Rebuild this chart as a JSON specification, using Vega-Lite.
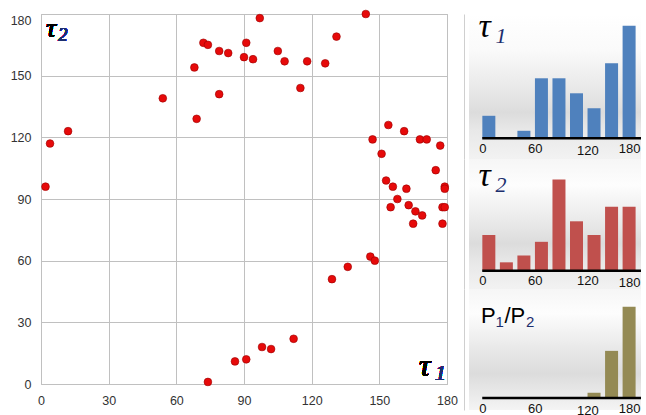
{
  "$schema": "https://vega.github.io/schema/vega-lite/v6.json",
  "padding": {"left": 9, "top": 8, "right": 0, "bottom": 0},
  "background": "white",
  "bounds": "flush",
  "spacing": 17,
  "config": {"view": {"stroke": null}, "font": "Liberation Sans"},
  "hconcat": [
    {
      "width": 406,
      "height": 370,
      "view": {"stroke": "#b8b8b8", "strokeWidth": 1},
      "data": {"values": [
        {"tau1": 2, "tau2": 96}, {"tau1": 4, "tau2": 117}, {"tau1": 12, "tau2": 123},
        {"tau1": 54, "tau2": 139}, {"tau1": 68, "tau2": 154}, {"tau1": 69, "tau2": 129},
        {"tau1": 72, "tau2": 166}, {"tau1": 74, "tau2": 165}, {"tau1": 79, "tau2": 162},
        {"tau1": 79, "tau2": 141}, {"tau1": 83, "tau2": 161}, {"tau1": 91, "tau2": 166},
        {"tau1": 90, "tau2": 159}, {"tau1": 94, "tau2": 158}, {"tau1": 97, "tau2": 178},
        {"tau1": 105, "tau2": 162}, {"tau1": 108, "tau2": 157}, {"tau1": 115, "tau2": 144},
        {"tau1": 118, "tau2": 157}, {"tau1": 126, "tau2": 156}, {"tau1": 131, "tau2": 169},
        {"tau1": 144, "tau2": 180}, {"tau1": 154, "tau2": 126}, {"tau1": 161, "tau2": 123},
        {"tau1": 147, "tau2": 119}, {"tau1": 168, "tau2": 119}, {"tau1": 171, "tau2": 119},
        {"tau1": 177, "tau2": 116}, {"tau1": 151, "tau2": 112}, {"tau1": 175, "tau2": 104},
        {"tau1": 153, "tau2": 99}, {"tau1": 156, "tau2": 96}, {"tau1": 162, "tau2": 95},
        {"tau1": 179, "tau2": 96}, {"tau1": 179, "tau2": 95}, {"tau1": 158, "tau2": 90},
        {"tau1": 155, "tau2": 86}, {"tau1": 163, "tau2": 87}, {"tau1": 166, "tau2": 84},
        {"tau1": 169, "tau2": 82}, {"tau1": 178, "tau2": 86}, {"tau1": 179, "tau2": 86},
        {"tau1": 165, "tau2": 78}, {"tau1": 178, "tau2": 78}, {"tau1": 146, "tau2": 62},
        {"tau1": 148, "tau2": 60}, {"tau1": 136, "tau2": 57}, {"tau1": 129, "tau2": 51},
        {"tau1": 112, "tau2": 22}, {"tau1": 98, "tau2": 18}, {"tau1": 102, "tau2": 17},
        {"tau1": 86, "tau2": 11}, {"tau1": 91, "tau2": 12}, {"tau1": 74, "tau2": 1}
      ]},
      "layer": [
        {
          "mark": {"type": "circle", "size": 60, "fill": "#e60a0a", "stroke": "#9a0000", "strokeWidth": 0.6, "opacity": 1},
          "encoding": {
            "x": {"field": "tau1", "type": "quantitative",
              "scale": {"domain": [0, 180], "nice": false, "zero": false},
              "axis": {"values": [0, 30, 60, 90, 120, 150, 180], "title": null, "grid": true, "gridColor": "#c0c0c0", "ticks": false, "domain": false, "labelPadding": 10, "labelFontSize": 12.5, "labelColor": "#333333", "labelFlush": false, "labelOverlap": false}},
            "y": {"field": "tau2", "type": "quantitative",
              "scale": {"domain": [0, 180], "nice": false, "zero": false},
              "axis": {"values": [0, 30, 60, 90, 120, 150, 180], "title": null, "grid": true, "gridColor": "#c0c0c0", "ticks": false, "domain": false, "labelPadding": 10, "labelFontSize": 12.5, "labelColor": "#333333", "labelFlush": false, "labelOverlap": false,
                "labelBaseline": {"condition": {"test": "datum.value == 180", "value": "top"}, "value": "middle"}}}
          }
        },
        {
          "mark": {"type": "text", "text": "τ", "font": "Liberation Serif", "fontStyle": "italic", "fontSize": 28, "align": "left", "baseline": "alphabetic", "color": "#000000"},
          "encoding": {"x": {"datum": 2.2, "type": "quantitative"}, "y": {"datum": 168.8, "type": "quantitative"}}
        },
        {
          "mark": {"type": "text", "text": "2", "font": "Liberation Serif", "fontStyle": "italic", "fontSize": 19, "align": "left", "baseline": "alphabetic", "color": "#1c2e6e", "dx": 12, "dy": 4},
          "encoding": {"x": {"datum": 2.2, "type": "quantitative"}, "y": {"datum": 168.8, "type": "quantitative"}}
        },
        {
          "mark": {"type": "text", "text": "τ", "font": "Liberation Serif", "fontStyle": "italic", "fontSize": 32, "align": "left", "baseline": "alphabetic", "color": "#000000"},
          "encoding": {"x": {"datum": 167.6, "type": "quantitative"}, "y": {"datum": 3.9, "type": "quantitative"}}
        },
        {
          "mark": {"type": "text", "text": "1", "font": "Liberation Serif", "fontStyle": "italic", "fontSize": 22, "align": "left", "baseline": "alphabetic", "color": "#1c2e6e", "dx": 16, "dy": 4},
          "encoding": {"x": {"datum": 167.6, "type": "quantitative"}, "y": {"datum": 3.9, "type": "quantitative"}}
        }
      ]
    },
    {
      "bounds": "flush",
      "spacing": 0,
      "vconcat": [
        {
          "width": 182,
          "height": 145,
          "view": {"stroke": null},
          "layer": [
            {
              "data": {"values": [{}]},
              "mark": {"type": "rect", "color": {"gradient": "linear", "x1": 0, "y1": 0, "x2": 0, "y2": 1, "stops": [
                {"offset": 0, "color": "#ffffff"}, {"offset": 0.25, "color": "#fafafa"}, {"offset": 0.55, "color": "#e6e6e6"}, {"offset": 0.68, "color": "#dcdcdc"}, {"offset": 0.8, "color": "#e8e8e8"}, {"offset": 1, "color": "#f2f2f2"}]}},
              "encoding": {
                "x": {"datum": -15.1, "type": "quantitative",
                  "scale": {"domain": [-15.1, 181.1], "nice": false, "zero": false},
                  "axis": {"values": [0, 60, 120, 180], "orient": "bottom", "offset": -20.7, "zindex": 1, "domain": false, "ticks": false, "grid": false, "labelFlush": 15, "labelFontSize": 13, "labelColor": "#111111", "title": null, "labelOverlap": false,
                    "labelPadding": {"condition": {"test": "datum.value == 120", "value": 6}, "value": 4}}},
                "x2": {"datum": 181.1},
                "y": {"datum": 16.57, "type": "quantitative",
                  "scale": {"domain": [-2.76, 16.57], "nice": false, "zero": false},
                  "axis": {"orient": "left", "zindex": 1, "domain": true, "domainColor": "#cfcfcf", "labels": false, "ticks": false, "grid": false, "title": null}},
                "y2": {"datum": -2.76}
              }
            },
            {
              "data": {"values": [
                {"bin_start": 0, "count": 3}, {"bin_start": 20, "count": 0}, {"bin_start": 40, "count": 1},
                {"bin_start": 60, "count": 8}, {"bin_start": 80, "count": 8}, {"bin_start": 100, "count": 6},
                {"bin_start": 120, "count": 4}, {"bin_start": 140, "count": 10}, {"bin_start": 160, "count": 15}
              ]},
              "mark": {"type": "bar", "width": 13, "xOffset": 6.6, "color": "#4f81bd"},
              "encoding": {"x": {"field": "bin_start", "type": "quantitative"}, "y": {"field": "count", "type": "quantitative"}}
            },
            {
              "data": {"values": [{}]},
              "mark": {"type": "rule", "color": "#000000", "strokeWidth": 2.5},
              "encoding": {"x": {"datum": 0, "type": "quantitative"}, "x2": {"datum": 181.1}, "y": {"datum": 0, "type": "quantitative"}}
            },
            {
              "data": {"values": [{}]},
              "mark": {"type": "text", "text": "τ", "font": "Liberation Serif", "fontStyle": "italic", "fontSize": 34, "align": "left", "baseline": "alphabetic", "color": "#000000"},
              "encoding": {"x": {"datum": -4.2, "type": "quantitative"}, "y": {"datum": 13.5, "type": "quantitative"}}
            },
            {
              "data": {"values": [{}]},
              "mark": {"type": "text", "text": "1", "font": "Liberation Serif", "fontStyle": "italic", "fontSize": 22, "align": "left", "baseline": "alphabetic", "color": "#1c2e6e", "dx": 17, "dy": 6},
              "encoding": {"x": {"datum": -4.2, "type": "quantitative"}, "y": {"datum": 13.5, "type": "quantitative"}}
            }
          ]
        },
        {
          "width": 182,
          "height": 130,
          "view": {"stroke": null},
          "layer": [
            {
              "data": {"values": [{}]},
              "mark": {"type": "rect", "color": {"gradient": "linear", "x1": 0, "y1": 0, "x2": 0, "y2": 1, "stops": [
                {"offset": 0, "color": "#f6f6f6"}, {"offset": 0.2, "color": "#fdfdfd"}, {"offset": 0.5, "color": "#e8e8e8"}, {"offset": 0.65, "color": "#dcdcdc"}, {"offset": 0.8, "color": "#e8e8e8"}, {"offset": 1, "color": "#f2f2f2"}]}},
              "encoding": {
                "x": {"datum": -15.1, "type": "quantitative",
                  "scale": {"domain": [-15.1, 181.1], "nice": false, "zero": false},
                  "axis": {"values": [0, 60, 120, 180], "orient": "bottom", "offset": -18.3, "zindex": 1, "domain": false, "ticks": false, "grid": false, "labelFlush": 15, "labelFontSize": 13, "labelColor": "#111111", "title": null, "labelOverlap": false,
                    "labelPadding": {"condition": {"test": "datum.value == 180", "value": 6}, "value": 4}}},
                "x2": {"datum": 181.1},
                "y": {"datum": 14.7, "type": "quantitative",
                  "scale": {"domain": [-2.41, 14.7], "nice": false, "zero": false},
                  "axis": {"orient": "left", "zindex": 1, "domain": true, "domainColor": "#cfcfcf", "labels": false, "ticks": false, "grid": false, "title": null}},
                "y2": {"datum": -2.41}
              }
            },
            {
              "data": {"values": [
                {"bin_start": 0, "count": 4.7}, {"bin_start": 20, "count": 1.1}, {"bin_start": 40, "count": 2.0},
                {"bin_start": 60, "count": 3.8}, {"bin_start": 80, "count": 12.0}, {"bin_start": 100, "count": 6.5},
                {"bin_start": 120, "count": 4.7}, {"bin_start": 140, "count": 8.4}, {"bin_start": 160, "count": 8.4}
              ]},
              "mark": {"type": "bar", "width": 13, "xOffset": 6.6, "color": "#c0504d"},
              "encoding": {"x": {"field": "bin_start", "type": "quantitative"}, "y": {"field": "count", "type": "quantitative"}}
            },
            {
              "data": {"values": [{}]},
              "mark": {"type": "rule", "color": "#000000", "strokeWidth": 2.5},
              "encoding": {"x": {"datum": 0, "type": "quantitative"}, "x2": {"datum": 181.1}, "y": {"datum": 0, "type": "quantitative"}}
            },
            {
              "data": {"values": [{}]},
              "mark": {"type": "text", "text": "τ", "font": "Liberation Serif", "fontStyle": "italic", "fontSize": 34, "align": "left", "baseline": "alphabetic", "color": "#000000"},
              "encoding": {"x": {"datum": -4.2, "type": "quantitative"}, "y": {"datum": 11.1, "type": "quantitative"}}
            },
            {
              "data": {"values": [{}]},
              "mark": {"type": "text", "text": "2", "font": "Liberation Serif", "fontStyle": "italic", "fontSize": 22, "align": "left", "baseline": "alphabetic", "color": "#1c2e6e", "dx": 17, "dy": 6},
              "encoding": {"x": {"datum": -4.2, "type": "quantitative"}, "y": {"datum": 11.1, "type": "quantitative"}}
            }
          ]
        },
        {
          "width": 182,
          "height": 121,
          "view": {"stroke": null},
          "layer": [
            {
              "data": {"values": [{}]},
              "mark": {"type": "rect", "color": {"gradient": "linear", "x1": 0, "y1": 0, "x2": 0, "y2": 1, "stops": [
                {"offset": 0, "color": "#f6f6f6"}, {"offset": 0.2, "color": "#fdfdfd"}, {"offset": 0.5, "color": "#e8e8e8"}, {"offset": 0.7, "color": "#dcdcdc"}, {"offset": 0.85, "color": "#e8e8e8"}, {"offset": 1, "color": "#f4f4f4"}]}},
              "encoding": {
                "x": {"datum": -15.1, "type": "quantitative",
                  "scale": {"domain": [-15.1, 181.1], "nice": false, "zero": false},
                  "axis": {"values": [0, 60, 120, 180], "orient": "bottom", "offset": -12, "zindex": 1, "domain": false, "ticks": false, "grid": false, "labelFlush": 15, "labelFontSize": 13, "labelColor": "#111111", "title": null, "labelOverlap": false,
                    "labelPadding": {"condition": {"test": "datum.value == 120", "value": 6}, "value": 4}}},
                "x2": {"datum": 181.1},
                "y": {"datum": 14.34, "type": "quantitative",
                  "scale": {"domain": [-1.58, 14.34], "nice": false, "zero": false},
                  "axis": {"orient": "left", "zindex": 1, "domain": true, "domainColor": "#cfcfcf", "labels": false, "ticks": false, "grid": false, "title": null}},
                "y2": {"datum": -1.58}
              }
            },
            {
              "data": {"values": [
                {"bin_start": 0, "count": 0}, {"bin_start": 20, "count": 0}, {"bin_start": 40, "count": 0},
                {"bin_start": 60, "count": 0}, {"bin_start": 80, "count": 0}, {"bin_start": 100, "count": 0},
                {"bin_start": 120, "count": 0.7}, {"bin_start": 140, "count": 6.2}, {"bin_start": 160, "count": 12.0}
              ]},
              "mark": {"type": "bar", "width": 13, "xOffset": 6.6, "color": "#948a54"},
              "encoding": {"x": {"field": "bin_start", "type": "quantitative"}, "y": {"field": "count", "type": "quantitative"}}
            },
            {
              "data": {"values": [{}]},
              "mark": {"type": "rule", "color": "#000000", "strokeWidth": 2.5},
              "encoding": {"x": {"datum": 0, "type": "quantitative"}, "x2": {"datum": 181.1}, "y": {"datum": 0, "type": "quantitative"}}
            },
            {
              "data": {"values": [{}]},
              "mark": {"type": "text", "text": "P", "font": "Liberation Sans", "fontSize": 22, "align": "left", "baseline": "alphabetic", "color": "#000000"},
              "encoding": {"x": {"datum": -1.5, "type": "quantitative"}, "y": {"datum": 9.9, "type": "quantitative"}}
            },
            {
              "data": {"values": [{}]},
              "mark": {"type": "text", "text": "1", "font": "Liberation Sans", "fontSize": 15, "align": "left", "baseline": "alphabetic", "color": "#1c2e6e", "dx": 14.5, "dy": 4},
              "encoding": {"x": {"datum": -1.5, "type": "quantitative"}, "y": {"datum": 9.9, "type": "quantitative"}}
            },
            {
              "data": {"values": [{}]},
              "mark": {"type": "text", "text": "/P", "font": "Liberation Sans", "fontSize": 22, "align": "left", "baseline": "alphabetic", "color": "#000000", "dx": 23.5},
              "encoding": {"x": {"datum": -1.5, "type": "quantitative"}, "y": {"datum": 9.9, "type": "quantitative"}}
            },
            {
              "data": {"values": [{}]},
              "mark": {"type": "text", "text": "2", "font": "Liberation Sans", "fontSize": 15, "align": "left", "baseline": "alphabetic", "color": "#1c2e6e", "dx": 45, "dy": 4},
              "encoding": {"x": {"datum": -1.5, "type": "quantitative"}, "y": {"datum": 9.9, "type": "quantitative"}}
            }
          ]
        }
      ]
    }
  ]
}
